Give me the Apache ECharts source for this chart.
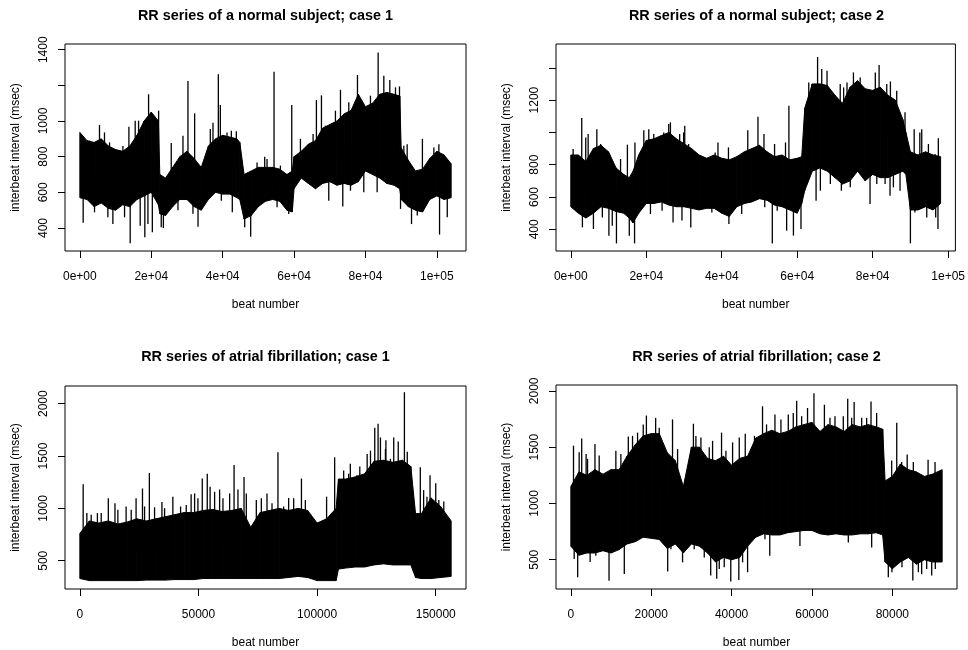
<!DOCTYPE html>
<html>
<head>
<meta charset="utf-8">
<title>RR series</title>
<script src="https://cdn.jsdelivr.net/npm/echarts@6/dist/echarts.min.js"></script>
<style>
  html, body { margin: 0; padding: 0; background: #fff; }
  #chart { width: 968px; height: 650px; }
</style>
</head>
<body>
<div id="chart"></div>
<script>
// Envelopes (upper / lower edge of the dense trace),
// plus isolated spikes and dips that stick out of the mass.

// --- normal subject, case 1
const n1Beats = [0, 2000, 4000, 6000, 8000, 10000, 12000, 14000, 16000, 18000, 20000, 22000, 22400, 24000, 26000, 28000, 30000, 32000, 34000, 36000, 38000, 40000, 42000, 44000, 44800, 46000, 48000, 50000, 52000, 54000, 56000, 58000, 59500, 60000, 62000, 64000, 66000, 68000, 70000, 72000, 74000, 76000, 78000, 80000, 82000, 84000, 86000, 88000, 89600, 90000, 92000, 94000, 96000, 98000, 100000, 102000, 104000];
const n1Upper = [936, 890, 880, 900, 860, 840, 830, 860, 920, 1000, 1050, 1000, 700, 680, 740, 800, 830, 790, 740, 860, 900, 920, 910, 900, 880, 700, 720, 740, 740, 740, 730, 700, 720, 800, 830, 870, 890, 960, 980, 1000, 1040, 1060, 1150, 1080, 1100, 1150, 1160, 1150, 1140, 850, 780, 720, 730, 790, 830, 810, 760];
const n1Lower = [570, 560, 520, 540, 510, 500, 530, 520, 560, 580, 600, 530, 480, 470, 520, 560, 560, 520, 500, 560, 600, 590, 590, 570, 560, 450, 470, 520, 550, 560, 550, 500, 490, 620, 680, 650, 620, 650, 660, 640, 650, 640, 660, 720, 700, 680, 650, 640, 620, 560, 520, 500, 490, 560, 580, 560, 570];
const n1SpikeBeats = [930, 2710, 4110, 5500, 6900, 7850, 8320, 9250, 12060, 12520, 13740, 14100, 15500, 16450, 16900, 18200, 19070, 19250, 20300, 22060, 22800, 23400, 25600, 27480, 28880, 30280, 31680, 32150, 33100, 36540, 37290, 38790, 39350, 39630, 41220, 42430, 42700, 43830, 46170, 47850, 49630, 51780, 52430, 54390, 55240, 56170, 58510, 59350, 61780, 65330, 66260, 67670, 68790, 69720, 71590, 73000, 73650, 75330, 75800, 77760, 79530, 81400, 83270, 83550, 85140, 86820, 88410, 89530, 89820, 90750, 91680, 92900, 94510, 95950, 99160, 100560, 100750, 102910];
const n1SpikeValues = [430, 890, 488, 978, 936, 460, 880, 422, 860, 460, 968, 314, 1002, 1002, 413, 348, 422, 1150, 376, 1058, 404, 400, 877, 500, 918, 1225, 480, 1043, 407, 955, 990, 1262, 1090, 553, 936, 946, 488, 942, 404, 351, 768, 800, 787, 1277, 516, 750, 478, 1090, 900, 927, 1118, 1144, 974, 553, 1058, 1175, 520, 1105, 609, 1258, 600, 1142, 600, 1385, 1254, 1230, 1189, 1194, 507, 862, 870, 422, 470, 900, 852, 870, 363, 460];

// --- normal subject, case 2
const n2Beats = [0, 2000, 4000, 6000, 8000, 10000, 12000, 14000, 15500, 16500, 18000, 20000, 22000, 24000, 26000, 28000, 30000, 32000, 34000, 36000, 38000, 40000, 42000, 44000, 46000, 48000, 50000, 52000, 54000, 56000, 58000, 60000, 61200, 62000, 64000, 66000, 68000, 70000, 72000, 74000, 76000, 78000, 80000, 82000, 84000, 86000, 88000, 88800, 90000, 92000, 94000, 96000, 98000];
const n2Upper = [860, 860, 820, 900, 920, 880, 780, 740, 720, 760, 860, 950, 960, 980, 1000, 960, 930, 900, 860, 840, 860, 840, 830, 850, 880, 900, 920, 880, 850, 860, 830, 840, 850, 1150, 1300, 1300, 1290, 1230, 1180, 1280, 1320, 1270, 1260, 1280, 1230, 1200, 1080, 1000, 880, 860, 880, 860, 850];
const n2Lower = [540, 500, 470, 500, 540, 530, 510, 500, 470, 440, 500, 560, 560, 570, 550, 540, 540, 530, 520, 530, 530, 500, 480, 540, 560, 570, 590, 580, 550, 540, 520, 500, 560, 640, 760, 780, 760, 720, 680, 700, 760, 700, 740, 720, 720, 740, 760, 740, 520, 520, 540, 520, 560];
const n2SpikeBeats = [616, 2900, 3080, 3960, 4600, 6000, 6900, 7900, 8360, 10100, 10990, 12100, 13190, 15000, 15500, 16900, 17000, 19350, 20670, 21110, 21990, 24190, 24630, 25950, 26400, 27100, 28850, 29460, 29900, 30200, 31220, 31800, 37380, 38260, 39000, 41780, 41900, 45290, 46900, 48370, 49600, 51190, 51400, 53400, 54000, 54700, 56900, 57200, 57800, 59000, 59540, 61000, 63060, 63940, 65000, 65400, 66140, 66500, 67900, 68780, 71400, 71700, 72300, 73200, 74060, 74900, 76690, 79300, 80700, 81090, 81700, 83290, 83730, 84600, 84700, 85490, 86370, 87250, 88570, 90000, 91000, 91200, 92490, 93000, 94330, 94770, 96530, 96700, 97300, 97400];
const n2SpikeValues = [897, 1089, 412, 969, 990, 402, 1020, 928, 474, 361, 423, 313, 835, 924, 361, 313, 938, 1014, 1020, 495, 990, 515, 1000, 1052, 1062, 443, 990, 454, 1000, 1041, 928, 412, 505, 876, 938, 907, 433, 495, 1014, 897, 1097, 990, 536, 313, 928, 515, 938, 392, 1165, 361, 505, 402, 1309, 1299, 577, 1467, 639, 1392, 1382, 680, 1299, 639, 1278, 1309, 660, 1371, 1340, 557, 1371, 680, 1417, 680, 1299, 608, 1315, 660, 1258, 639, 1124, 313, 1020, 505, 1000, 1020, 474, 928, 866, 474, 402, 963];

// --- atrial fibrillation, case 1
const af1Beats = [0, 4000, 8000, 12000, 16000, 20000, 24000, 28000, 32000, 36000, 40000, 44000, 48000, 52000, 56000, 60000, 64000, 68000, 72000, 76000, 80000, 84000, 88000, 92000, 96000, 100000, 104000, 108000, 109000, 112000, 116000, 120000, 124000, 128000, 132000, 136000, 139500, 141500, 144000, 148000, 152000, 156500];
const af1Upper = [760, 880, 860, 880, 850, 870, 900, 880, 900, 920, 940, 960, 960, 980, 990, 970, 980, 1000, 820, 960, 980, 1000, 980, 1000, 980, 860, 900, 1000, 1280, 1280, 1300, 1330, 1450, 1460, 1440, 1460, 1400, 950, 950, 1100, 1020, 880];
const af1Lower = [330, 310, 310, 310, 310, 310, 310, 315, 315, 315, 320, 320, 320, 330, 330, 330, 330, 330, 330, 330, 330, 330, 340, 350, 340, 310, 310, 310, 420, 430, 440, 440, 460, 470, 460, 460, 460, 340, 330, 330, 340, 350];
const af1SpikeBeats = [1400, 2950, 4780, 7400, 9000, 12000, 14800, 16030, 19500, 21650, 23700, 26400, 27280, 29300, 31490, 34600, 35710, 39200, 42460, 44850, 46900, 48370, 49770, 51600, 53700, 54900, 56800, 58910, 60320, 63130, 65000, 66640, 69200, 70160, 74380, 76490, 78880, 80990, 83500, 85900, 88000, 90120, 93400, 95050, 104000, 107400, 111200, 113300, 114000, 116800, 118000, 121100, 122500, 124300, 125700, 126700, 128800, 129000, 130900, 132300, 134200, 136800, 138000, 143500, 144900, 146300, 147600, 150000, 151300, 153400];
const af1SpikeValues = [1231, 955, 939, 955, 955, 1096, 1049, 986, 1018, 986, 1096, 1190, 1018, 1338, 1011, 1060, 1002, 1112, 1018, 1033, 1134, 1143, 1096, 1285, 1331, 1206, 1159, 1180, 1096, 1143, 1415, 1181, 1300, 1143, 1080, 1096, 1143, 1049, 1536, 1018, 1100, 1096, 1285, 1080, 1112, 1488, 1363, 1331, 1426, 1316, 1400, 1520, 1551, 1771, 1808, 1677, 1567, 1650, 1473, 1677, 1640, 2110, 1540, 1394, 1175, 1112, 1316, 1240, 1080, 1065];

// --- atrial fibrillation, case 2
const af2Beats = [0, 2000, 4000, 6000, 8000, 10000, 12000, 14000, 16000, 18000, 20000, 22000, 24000, 26000, 28000, 30000, 32000, 34000, 36000, 38000, 40000, 42000, 44000, 46000, 48000, 50000, 52000, 54000, 56000, 58000, 60000, 62000, 64000, 66000, 68000, 70000, 72000, 74000, 76000, 77600, 78200, 80000, 82000, 84000, 86000, 88000, 90000, 92400];
const af2Upper = [1150, 1280, 1250, 1300, 1260, 1300, 1300, 1420, 1520, 1600, 1620, 1620, 1450, 1380, 1150, 1500, 1500, 1400, 1380, 1420, 1340, 1400, 1420, 1580, 1620, 1650, 1620, 1640, 1680, 1700, 1720, 1640, 1700, 1680, 1640, 1700, 1680, 1700, 1680, 1660, 1200, 1240, 1350, 1300, 1280, 1240, 1260, 1300];
const af2Lower = [620, 540, 560, 560, 580, 560, 590, 640, 660, 700, 690, 680, 600, 640, 560, 640, 620, 560, 480, 520, 500, 520, 620, 700, 730, 720, 720, 740, 750, 760, 760, 730, 720, 730, 720, 720, 730, 730, 740, 720, 480, 420, 480, 520, 460, 500, 480, 480];
const af2SpikeBeats = [660, 830, 1700, 2070, 2700, 3800, 4150, 4800, 6000, 6220, 7050, 9500, 11200, 12450, 13300, 14300, 15350, 16600, 18010, 18800, 21100, 21990, 24100, 24900, 25300, 26560, 27800, 30500, 30700, 31120, 32370, 33200, 34440, 34800, 35270, 36300, 36930, 37500, 38170, 38590, 39800, 40250, 41800, 41910, 42740, 43400, 43980, 45700, 47700, 48300, 48700, 49500, 50790, 52280, 54110, 55350, 56200, 57010, 57430, 58900, 60500, 63100, 64480, 65730, 67800, 68900, 69050, 69880, 70500, 72370, 73610, 74700, 74860, 76100, 79000, 79840, 79900, 81100, 82330, 82400, 83700, 85100, 85230, 86480, 87300, 88550, 88900, 89800, 90630, 90700];
const af2SpikeValues = [1513, 506, 345, 1454, 1577, 1440, 1396, 480, 1527, 535, 1425, 313, 1469, 1440, 374, 1594, 1600, 1629, 1702, 1781, 1760, 1673, 395, 593, 1746, 1483, 477, 1708, 593, 1600, 1585, 520, 1498, 360, 1556, 330, 418, 1629, 433, 1469, 307, 1542, 320, 1585, 477, 1620, 389, 1600, 1863, 681, 1702, 535, 1790, 1746, 1790, 1804, 1912, 623, 1775, 1848, 1979, 1877, 1760, 1775, 1775, 1930, 652, 1760, 1900, 1760, 1760, 1906, 608, 1804, 345, 1381, 389, 1717, 1367, 433, 1434, 316, 1367, 389, 370, 418, 1387, 360, 1367, 418];

// tick values and labels (R style: some y labels dropped)
const n1XTicks = [0, 20000, 40000, 60000, 80000, 100000];
const n1XLabels = ['0e+00', '2e+04', '4e+04', '6e+04', '8e+04', '1e+05'];
const n1YTicks = [400, 600, 800, 1000, 1200, 1400];
const n1YLabels = ['400', '600', '800', '1000', '', '1400'];
const n2XTicks = [0, 20000, 40000, 60000, 80000, 100000];
const n2XLabels = ['0e+00', '2e+04', '4e+04', '6e+04', '8e+04', '1e+05'];
const n2YTicks = [400, 600, 800, 1000, 1200, 1400];
const n2YLabels = ['400', '600', '800', '', '1200', ''];
const af1XTicks = [0, 50000, 100000, 150000];
const af1XLabels = ['0', '50000', '100000', '150000'];
const af1YTicks = [500, 1000, 1500, 2000];
const af1YLabels = ['500', '1000', '1500', '2000'];
const af2XTicks = [0, 20000, 40000, 60000, 80000];
const af2XLabels = ['0', '20000', '40000', '60000', '80000'];
const af2YTicks = [500, 1000, 1500, 2000];
const af2YLabels = ['500', '1000', '1500', '2000'];

const titles = [
    'RR series of a normal subject; case 1',
    'RR series of a normal subject; case 2',
    'RR series of atrial fibrillation; case 1',
    'RR series of atrial fibrillation; case 2'
];

const FONT = 'Liberation Sans, Arial, Helvetica, sans-serif';

const panels = [
    { beats: n1Beats, upper: n1Upper, lower: n1Lower, sb: n1SpikeBeats, sv: n1SpikeValues,
      xt: n1XTicks, xl: n1XLabels, yt: n1YTicks, yl: n1YLabels,
      xMin: -4160, xMax: 108160, yMin: 271, yMax: 1432,
      grid: { left: 65, top: 44, width: 401, height: 207 } },
    { beats: n2Beats, upper: n2Upper, lower: n2Lower, sb: n2SpikeBeats, sv: n2SpikeValues,
      xt: n2XTicks, xl: n2XLabels, yt: n2YTicks, yl: n2YLabels,
      xMin: -3920, xMax: 101920, yMin: 266, yMax: 1547,
      grid: { left: 556, top: 44, width: 401, height: 207 } },
    { beats: af1Beats, upper: af1Upper, lower: af1Lower, sb: af1SpikeBeats, sv: af1SpikeValues,
      xt: af1XTicks, xl: af1XLabels, yt: af1YTicks, yl: af1YLabels,
      xMin: -6260, xMax: 162760, yMin: 230, yMax: 2169,
      grid: { left: 65, top: 386, width: 401, height: 206 } },
    { beats: af2Beats, upper: af2Upper, lower: af2Lower, sb: af2SpikeBeats, sv: af2SpikeValues,
      xt: af2XTicks, xl: af2XLabels, yt: af2YTicks, yl: af2YLabels,
      xMin: -3696, xMax: 96096, yMin: 240, yMax: 2052,
      grid: { left: 556, top: 385, width: 401, height: 207 } }
];

// filled band between the two envelopes, one trapezoid per step
function bandRenderer(p) {
    return function (params, api) {
        const i = params.dataIndex;
        if (i >= p.beats.length - 1) return null;
        const pts = [
            api.coord([p.beats[i], p.upper[i]]),
            api.coord([p.beats[i + 1], p.upper[i + 1]]),
            api.coord([p.beats[i + 1], p.lower[i + 1]]),
            api.coord([p.beats[i], p.lower[i]])
        ];
        return {
            type: 'polygon',
            shape: { points: pts },
            style: { fill: '#000', stroke: '#000', lineWidth: 1 }
        };
    };
}

// vertical spike from the middle of the band out to the spike value
function spikeRenderer(p) {
    return function (params, api) {
        const x = api.value(0), v = api.value(1);
        let k = 0;
        while (k < p.beats.length - 2 && p.beats[k + 1] < x) k++;
        const t = (x - p.beats[k]) / (p.beats[k + 1] - p.beats[k]);
        const m0 = (p.upper[k] + p.lower[k]) / 2;
        const m1 = (p.upper[k + 1] + p.lower[k + 1]) / 2;
        const mid = m0 + t * (m1 - m0);
        const a = api.coord([x, v]), b = api.coord([x, mid]);
        return {
            type: 'line',
            shape: { x1: a[0], y1: a[1], x2: b[0], y2: b[1] },
            style: { stroke: '#000', lineWidth: 1.3 }
        };
    };
}

const grids = [], xAxes = [], yAxes = [], series = [], titleOpts = [];

panels.forEach(function (p, idx) {
    grids.push(Object.assign({ show: true, borderColor: '#000', borderWidth: 1, backgroundColor: 'transparent' }, p.grid));

    xAxes.push({
        gridIndex: idx, type: 'value', min: p.xMin, max: p.xMax,
        name: 'beat number', nameLocation: 'middle', nameGap: 48,
        nameTextStyle: { fontFamily: FONT, fontSize: 12, color: '#000' },
        axisLine: { show: false, onZero: false },
        axisTick: { show: true, inside: false, length: 7, customValues: p.xt, lineStyle: { color: '#000' } },
        axisLabel: {
            customValues: p.xt, margin: 20, fontFamily: FONT, fontSize: 12, color: '#000',
            formatter: function (v) { return p.xl[p.xt.indexOf(v)] || ''; }
        },
        splitLine: { show: false }
    });

    yAxes.push({
        gridIndex: idx, type: 'value', min: p.yMin, max: p.yMax,
        name: 'interbeat interval (msec)', nameLocation: 'middle', nameGap: 43,
        nameTextStyle: { fontFamily: FONT, fontSize: 12, color: '#000' },
        axisLine: { show: false, onZero: false },
        axisTick: { show: true, inside: false, length: 7, customValues: p.yt, lineStyle: { color: '#000' } },
        axisLabel: {
            customValues: p.yt, rotate: 90, margin: 15, fontFamily: FONT, fontSize: 12, color: '#000',
            formatter: function (v) { return p.yl[p.yt.indexOf(v)] || ''; }
        },
        splitLine: { show: false }
    });

    series.push({
        type: 'custom', xAxisIndex: idx, yAxisIndex: idx, silent: true, clip: true,
        data: p.beats.map(function (b, i) { return [b, p.lower[i], p.upper[i]]; }),
        encode: { x: 0, y: [1, 2] },
        renderItem: bandRenderer(p)
    });
    series.push({
        type: 'custom', xAxisIndex: idx, yAxisIndex: idx, silent: true, clip: true,
        data: p.sb.map(function (b, i) { return [b, p.sv[i]]; }),
        encode: { x: 0, y: 1 },
        renderItem: spikeRenderer(p)
    });

    titleOpts.push({
        text: titles[idx],
        left: p.grid.left + p.grid.width / 2,
        top: idx < 2 ? 9 : 350,
        padding: 0,
        textAlign: 'center',
        textStyle: { fontFamily: FONT, fontSize: 14.4, fontWeight: 'bold', color: '#000' }
    });
});

const chart = echarts.init(document.getElementById('chart'), null, { renderer: 'canvas' });
chart.setOption({
    animation: false,
    backgroundColor: '#fff',
    title: titleOpts,
    grid: grids,
    xAxis: xAxes,
    yAxis: yAxes,
    series: series
});

window.addEventListener('resize', function () {
    chart.resize();
});
</script>
</body>
</html>
